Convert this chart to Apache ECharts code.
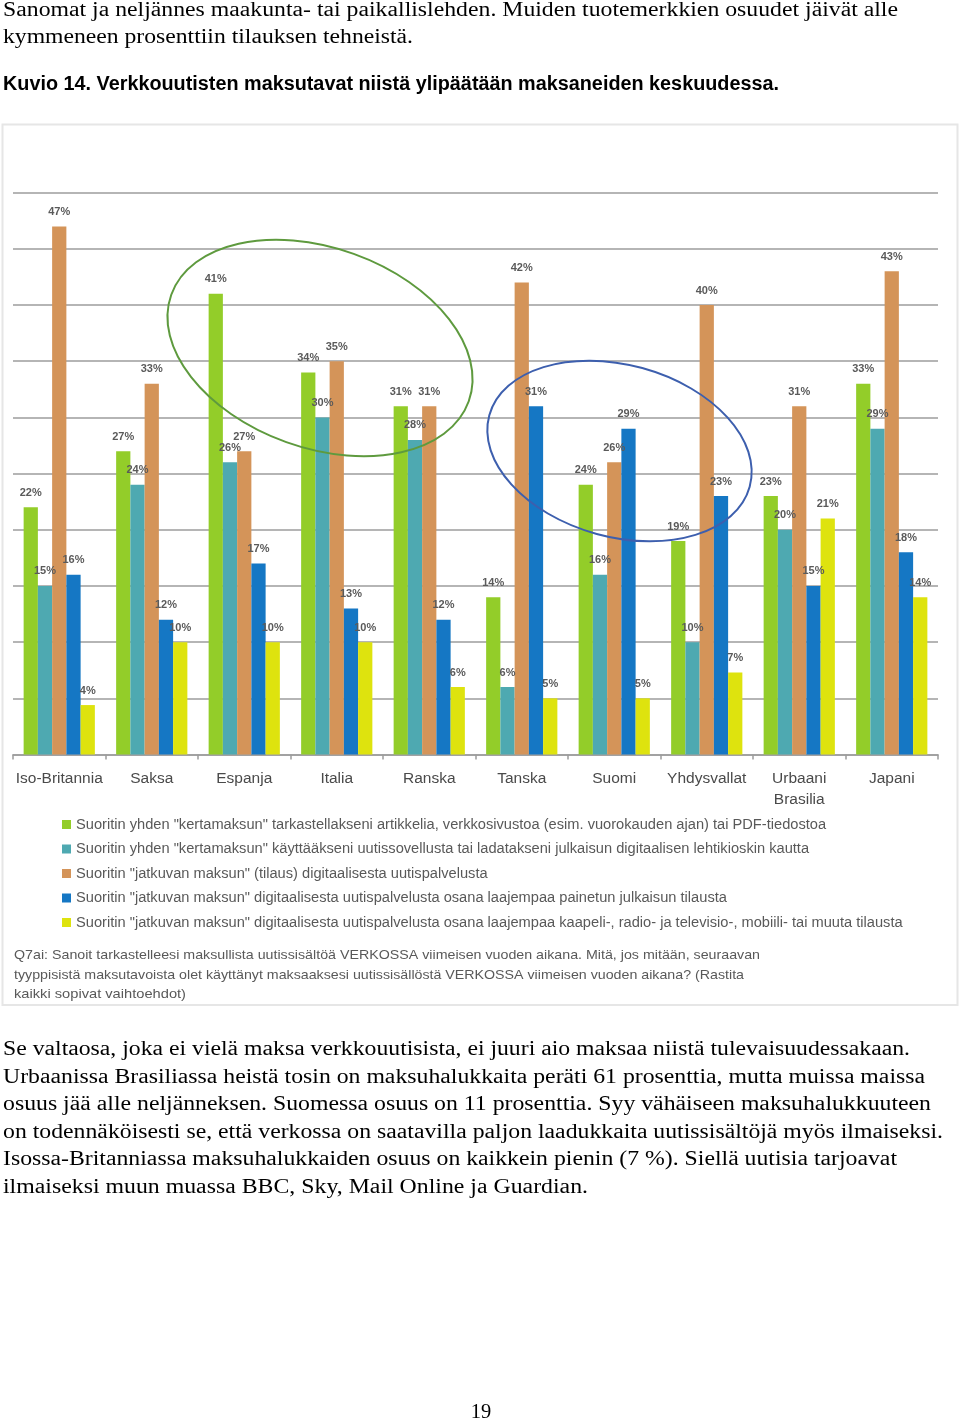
<!DOCTYPE html>
<html>
<head>
<meta charset="utf-8">
<script src="https://cdn.jsdelivr.net/npm/echarts@6/dist/echarts.min.js"></script>
<style>
html,body{margin:0;padding:0;background:#fff;}
#main{width:960px;height:1425px;}
</style>
</head>
<body>
<div id="main"></div>
<script>
// ---- data ----
const categories = ['Iso-Britannia','Saksa','Espanja','Italia','Ranska','Tanska','Suomi','Yhdysvallat','Urbaani Brasilia','Japani'];
const seriesNames = [
  'Suoritin yhden "kertamaksun" tarkastellakseni artikkelia, verkkosivustoa (esim. vuorokauden ajan) tai PDF-tiedostoa',
  'Suoritin yhden "kertamaksun" käyttääkseni uutissovellusta tai ladatakseni julkaisun digitaalisen lehtikioskin kautta',
  'Suoritin "jatkuvan maksun" (tilaus) digitaalisesta uutispalvelusta',
  'Suoritin "jatkuvan maksun" digitaalisesta uutispalvelusta osana laajempaa painetun julkaisun tilausta',
  'Suoritin "jatkuvan maksun" digitaalisesta uutispalvelusta osana laajempaa kaapeli-, radio- ja televisio-, mobiili- tai muuta tilausta'
];
const kertamaksuArtikkeli = [22, 27, 41, 34, 31, 14, 24, 19, 23, 33];
const kertamaksuSovellus  = [15, 24, 26, 30, 28, 6, 16, 10, 20, 29];
const jatkuvaTilaus       = [47, 33, 27, 35, 31, 42, 26, 40, 31, 43];
const painettuTilaus      = [16, 12, 17, 13, 12, 31, 29, 23, 15, 18];
const muuTilaus           = [4.4, 10, 10, 10, 6, 5, 5, 7.3, 21, 14];
const seriesValues = [kertamaksuArtikkeli, kertamaksuSovellus, jatkuvaTilaus, painettuTilaus, muuTilaus];
const seriesColors = ['#93cd29', '#4ea9b1', '#d49459', '#1577c4', '#dee30e'];

const topLines = [
  'Sanomat ja neljännes maakunta- tai paikallislehden. Muiden tuotemerkkien osuudet jäivät alle',
  'kymmeneen prosenttiin tilauksen tehneistä.'
];
const figureTitle = 'Kuvio 14. Verkkouutisten maksutavat niistä ylipäätään maksaneiden keskuudessa.';
const noteLines = [
  'Q7ai: Sanoit tarkastelleesi maksullista uutissisältöä VERKOSSA viimeisen vuoden aikana. Mitä, jos mitään, seuraavan',
  'tyyppisistä maksutavoista olet käyttänyt maksaaksesi uutissisällöstä VERKOSSA viimeisen vuoden aikana? (Rastita',
  'kaikki sopivat vaihtoehdot)'
];
const bodyLines = [
  'Se valtaosa, joka ei vielä maksa verkkouutisista, ei juuri aio maksaa niistä tulevaisuudessakaan.',
  'Urbaanissa Brasiliassa heistä tosin on maksuhalukkaita peräti 61 prosenttia, mutta muissa maissa',
  'osuus jää alle neljänneksen. Suomessa osuus on 11 prosenttia. Syy vähäiseen maksuhalukkuuteen',
  'on todennäköisesti se, että verkossa on saatavilla paljon laadukkaita uutissisältöjä myös ilmaiseksi.',
  'Isossa-Britanniassa maksuhalukkaiden osuus on kaikkein pienin (7 %). Siellä uutisia tarjoavat',
  'ilmaiseksi muun muassa BBC, Sky, Mail Online ja Guardian.'
];
const pageNumber = '19';

// ---- helpers ----
const mctx = document.createElement('canvas').getContext('2d');
function fitText(str, x, y, font, target, fill) {
  mctx.font = font;
  const w = mctx.measureText(str).width;
  return {
    type: 'text', x: x, y: y, scaleX: target ? target / w : 1, z: 10,
    style: { text: str, font: font, fill: fill || '#000', textVerticalAlign: 'middle', textAlign: 'left' }
  };
}

const serif = '20.5px "Liberation Serif"';
const graphics = [];
// chart box
graphics.push({ type: 'rect', z: 0, shape: { x: 2.5, y: 124.5, width: 955, height: 880.5 },
  style: { fill: 'none', stroke: '#e6e6e6', lineWidth: 2 } });
// top text
graphics.push(fitText(topLines[0], 3, 10.5, serif, 895));
graphics.push(fitText(topLines[1], 3, 38, serif, 410));
graphics.push(fitText(figureTitle, 3, 84.5, 'bold 19.5px "Liberation Sans"', 776));
// note
const noteW = [746, 730, 172];
const noteY = [955.5, 975, 994.5];
noteLines.forEach((t, i) => graphics.push(fitText(t, 14, noteY[i], '13px "Liberation Sans"', noteW[i], '#595959')));
// body paragraph
const bodyW = [907, 922, 928, 940, 894, 585];
const bodyY = [1050, 1077.5, 1105, 1132.5, 1160, 1187.5];
bodyLines.forEach((t, i) => graphics.push(fitText(t, 3, bodyY[i], serif, bodyW[i])));
// page number
graphics.push({ type: 'text', x: 481, y: 1413, z: 10,
  style: { text: pageNumber, font: serif, fill: '#000', textAlign: 'center', textVerticalAlign: 'middle' } });
// annotation ellipses
graphics.push({ type: 'ellipse', x: 320, y: 348, rotation: -0.344, z: 100,
  shape: { cx: 0, cy: 0, rx: 158, ry: 100 },
  style: { fill: 'none', stroke: '#5e9a3e', lineWidth: 2 } });
graphics.push({ type: 'ellipse', x: 619.5, y: 451, rotation: -0.268, z: 100,
  shape: { cx: 0, cy: 0, rx: 135, ry: 86 },
  style: { fill: 'none', stroke: '#3d5fae', lineWidth: 2 } });

const chart = echarts.init(document.getElementById('main'), null, { renderer: 'canvas' });
chart.setOption({
  animation: false,
  backgroundColor: '#fff',
  textStyle: { fontFamily: '"Liberation Sans", Arial, sans-serif' },
  grid: { left: 13, right: 22, top: 192.7, bottom: 670.5, containLabel: false },
  legend: {
    orient: 'vertical', left: 62, top: 817, padding: 0,
    itemWidth: 9, itemHeight: 9, itemGap: 9.5, icon: 'rect',
    textStyle: { fontSize: 14.65, color: '#595959', lineHeight: 15 },
    data: seriesNames
  },
  xAxis: {
    type: 'category', data: categories,
    axisLine: { lineStyle: { color: '#9c9c9c', width: 1.5 } },
    axisTick: { show: true, length: 5, lineStyle: { color: '#9c9c9c', width: 1.5 } },
    axisLabel: { fontSize: 15.5, color: '#4a4a4a', margin: 14, lineHeight: 21, interval: 0,
      formatter: v => v.replace(' ', '\n') }
  },
  yAxis: {
    type: 'value', min: 0, max: 50, interval: 5,
    axisLabel: { show: false }, axisLine: { show: false }, axisTick: { show: false },
    splitLine: { lineStyle: { color: '#9c9c9c', width: 1.5 } }
  },
  series: seriesNames.map((name, i) => ({
    name: name, type: 'bar', data: seriesValues[i],
    barGap: '0%', barCategoryGap: '23%',
    itemStyle: { color: seriesColors[i] },
    label: { show: true, position: 'top', distance: 9, fontSize: 11, fontWeight: 'bold', color: '#5a5a5a',
      formatter: p => Math.round(p.value) + '%' }
  })),
  graphic: graphics
});
</script>
</body>
</html>
